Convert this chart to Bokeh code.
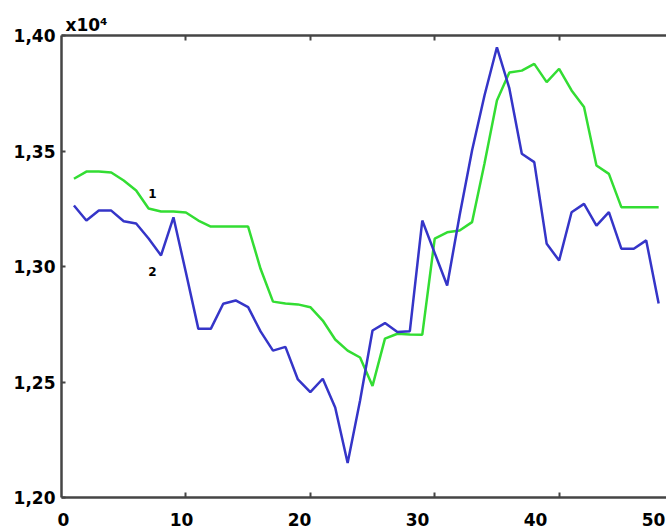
from bokeh.plotting import figure
from bokeh.models import Range1d, LinearAxis, FixedTicker, CustomJSTickFormatter
from bokeh.core.properties import value
from bokeh.embed import file_html
from bokeh.resources import INLINE

# ---- data (values x10^4 shown on axis) ----
x_idx = list(range(1, 49))
series1_green = [13380, 13411, 13411, 13407, 13372, 13329, 13251, 13238, 13238, 13234,
                 13199, 13173, 13173, 13173, 13173, 12990, 12848, 12840, 12836, 12824,
                 12766, 12684, 12636, 12606, 12483, 12688, 12709, 12706, 12705, 13121,
                 13148, 13156, 13192, 13446, 13719, 13840, 13848, 13877, 13798, 13856,
                 13762, 13690, 13437, 13401, 13257, 13257, 13257, 13257]
series2_blue = [13264, 13199, 13242, 13242, 13196, 13186, 13121, 13048, 13213, 12974,
                12730, 12730, 12839, 12853, 12824, 12719, 12636, 12652, 12511, 12456,
                12514, 12390, 12149, 12420, 12723, 12755, 12716, 12720, 13199, 13058,
                12918, 13221, 13502, 13740, 13949, 13771, 13488, 13452, 13098, 13026,
                13235, 13271, 13177, 13235, 13077, 13077, 13113, 12840]
x_tick_labels = [0, 10, 20, 30, 40, 50]
y_ticks = [12000, 12500, 13000, 13500, 14000]
series_names = ["1", "2"]

FONT = "DejaVu Sans"
AXIS_COLOR = "#454545"

p = figure(width=666, height=530,
           x_range=Range1d(0, 48.63), y_range=Range1d(12000, 14000),
           output_backend="svg", toolbar_location=None,
           min_border_left=61, min_border_right=0, min_border_top=35, min_border_bottom=33)

p.title.text = "x10\u2074"
p.title.align = "left"
p.title.text_font = FONT
p.title.text_font_size = "17px"
p.title.text_font_style = "bold"
p.title.text_color = "black"
p.title.offset = 4
p.title.standoff = 2

p.grid.visible = False
p.outline_line_color = None
p.background_fill_color = "white"
p.border_fill_color = "white"

def tick_only(ax):
    ax.ticker = FixedTicker(ticks=[10, 20, 30, 40])
    ax.formatter = CustomJSTickFormatter(code="return '';")
    ax.major_tick_in = 5
    ax.major_tick_out = 0
    ax.major_tick_line_width = 2
    ax.major_tick_line_color = AXIS_COLOR
    ax.minor_tick_line_color = None
    ax.major_label_text_font_size = "1px"
    ax.major_label_standoff = 0
    ax.axis_line_width = 2.5
    ax.axis_line_color = AXIS_COLOR

tick_only(p.xaxis[0])
top = LinearAxis()
tick_only(top)
p.add_layout(top, "above")

p.extra_x_ranges = {"lab": Range1d(-0.17, 51.1)}
lab = LinearAxis(x_range_name="lab", ticker=FixedTicker(ticks=x_tick_labels))
lab.axis_line_color = None
lab.major_tick_line_color = None
lab.minor_tick_line_color = None
lab.major_label_standoff = 9
lab.major_label_text_font = FONT
lab.major_label_text_font_size = "17px"
lab.major_label_text_font_style = "bold"
lab.major_label_text_color = "black"
p.add_layout(lab, "below")

ya = p.yaxis[0]
ya.ticker = FixedTicker(ticks=y_ticks)
ya.formatter = CustomJSTickFormatter(code="return (tick/10000).toFixed(2).replace('.', ',');")
ya.major_tick_in = 4
ya.major_tick_out = 0
ya.major_tick_line_width = 2
ya.major_tick_line_color = AXIS_COLOR
ya.minor_tick_line_color = None
ya.major_label_standoff = 6
ya.major_label_text_font = FONT
ya.major_label_text_font_size = "17px"
ya.major_label_text_font_style = "bold"
ya.major_label_text_color = "black"
ya.axis_line_width = 2.5
ya.axis_line_color = AXIS_COLOR

p.line(x_idx, series1_green, line_color="#33dd33", line_width=2.5)
p.line(x_idx, series2_blue, line_color="#3535c8", line_width=2.5)

p.text(x=[7.3, 7.3], y=[13315, 12978], text=series_names,
       text_font=value(FONT), text_font_size="12px", text_font_style="bold",
       text_align="center", text_baseline="middle", text_color="black")

open("out.html", "w").write(file_html(p, INLINE))
